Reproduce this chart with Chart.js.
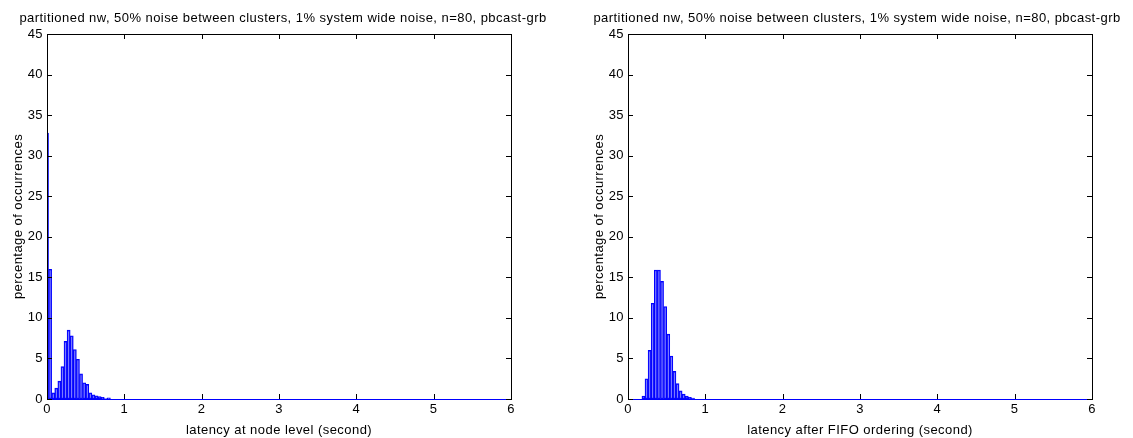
<!DOCTYPE html>
<html>
<head>
<meta charset="utf-8">
<script src="https://cdn.jsdelivr.net/npm/chart.js@4.4.1/dist/chart.umd.min.js"></script>
<style>
  html, body { margin: 0; padding: 0; background: #fff; }
  #wrap { position: relative; width: 1133px; height: 438px; }
  canvas { position: absolute; top: 0; }
</style>
</head>
<body>
<div id="wrap">
  <canvas id="node-chart" width="566" height="438" style="left:0;width:566px;height:438px"></canvas>
  <canvas id="fifo-chart" width="567" height="438" style="left:566px;width:567px;height:438px"></canvas>
</div>
<script>
const titleText = 'partitioned nw, 50% noise between clusters, 1% system wide noise, n=80, pbcast-grb';
const binWidth = 0.04; // seconds per histogram bin, bins centred on multiples of it
const xTicks = [0, 1, 2, 3, 4, 5, 6];
const yTicks = [0, 5, 10, 15, 20, 25, 30, 35, 40, 45];

// percentage of occurrences per bin, starting at bin 0
const nodeLatency = [32.8, 16.0, 0.75, 1.35, 2.2, 4.0, 7.1, 8.5, 7.8, 6.1, 4.9, 3.1, 2.0, 1.8,
  0.75, 0.5, 0.4, 0.3, 0.2, 0.05, 0.15];
const fifoLatency = [0, 0, 0, 0, 0, 0.37, 2.5, 6.0, 11.8, 15.9, 15.9, 14.5, 11.4, 8.0, 5.3,
  3.4, 1.9, 1.0, 0.6, 0.35, 0.2, 0.1];

const fontFamily = '"Liberation Sans", Arial, Helvetica, sans-serif';
const labelFont = { family: fontFamily, size: 13, weight: 'normal', lineHeight: 1.2 };

// matlab style box: black frame, inward ticks on all four sides, blue zero line
const boxPlugin = {
  id: 'box',
  beforeDraw(chart) {
    chart.ctx.letterSpacing = '0.45px';
  },
  afterDraw(chart) {
    const ctx = chart.ctx;
    const a = chart.chartArea;
    const xs = chart.scales.x, ys = chart.scales.y;
    ctx.save();
    ctx.lineWidth = 1;
    ctx.strokeStyle = '#000';
    ctx.strokeRect(Math.round(a.left) + 0.5, Math.round(a.top) + 0.5,
      Math.round(a.right - a.left), Math.round(a.bottom - a.top));
    ctx.strokeStyle = '#0000ff';
    ctx.beginPath();
    ctx.moveTo(a.left, Math.round(a.bottom) + 0.5);
    ctx.lineTo(a.right, Math.round(a.bottom) + 0.5);
    ctx.stroke();
    ctx.strokeStyle = '#000';
    ctx.beginPath();
    xTicks.forEach(t => {
      const px = Math.round(xs.getPixelForValue(t)) + 0.5;
      ctx.moveTo(px, a.bottom); ctx.lineTo(px, a.bottom - 5);
      ctx.moveTo(px, a.top); ctx.lineTo(px, a.top + 5);
    });
    yTicks.forEach(t => {
      const py = Math.round(ys.getPixelForValue(t)) + 0.5;
      ctx.moveTo(a.left, py); ctx.lineTo(a.left + 5, py);
      ctx.moveTo(a.right, py); ctx.lineTo(a.right - 5, py);
    });
    ctx.stroke();
    ctx.restore();
  }
};

function makeHist(canvasId, values, xLabel, padLeft, rightGap) {
  const points = values.map((v, i) => ({ x: i * binWidth, y: v }));
  return new Chart(document.getElementById(canvasId), {
    type: 'bar',
    data: {
      datasets: [{
        data: points,
        backgroundColor: 'rgba(150, 150, 255, 0.25)',
        borderColor: '#0000ff',
        borderWidth: 1,
        borderSkipped: false,
        barPercentage: 1,
        categoryPercentage: 1
      }]
    },
    options: {
      responsive: false,
      animation: false,
      layout: { padding: { left: padLeft, right: 0, top: 0, bottom: 0 } },
      plugins: {
        legend: { display: false },
        tooltip: { enabled: false },
        title: {
          display: true,
          text: titleText,
          color: '#000',
          font: labelFont,
          padding: { top: 11, bottom: 7.4 }
        }
      },
      scales: {
        x: {
          type: 'linear',
          min: 0,
          max: 6,
          offset: false,
          afterFit: s => { s.height = 39; },
          afterBuildTicks: s => { s.ticks = xTicks.map(v => ({ value: v })); },
          grid: { display: false, drawTicks: false },
          border: { display: false },
          ticks: { color: '#000', padding: 3, font: labelFont },
          title: {
            display: true,
            text: xLabel,
            color: '#000',
            padding: { top: 0, bottom: 0 },
            font: labelFont
          }
        },
        y: {
          min: 0,
          max: 45,
          afterFit: s => { s.width = 47; },
          afterBuildTicks: s => { s.ticks = yTicks.map(v => ({ value: v })); },
          grid: { display: false, drawTicks: false },
          border: { display: false },
          ticks: { color: '#000', padding: 4, font: labelFont },
          title: {
            display: true,
            text: 'percentage of occurrences',
            color: '#000',
            padding: { top: 11, bottom: 0 },
            font: labelFont
          }
        },
        // empty axis that keeps the white margin right of the frame
        gap: {
          position: 'right',
          min: 0,
          max: 45,
          afterFit: s => { s.width = rightGap; },
          grid: { display: false, drawTicks: false },
          border: { display: false },
          ticks: { display: false }
        }
      }
    },
    plugins: [boxPlugin]
  });
}

makeHist('node-chart', nodeLatency, 'latency at node level (second)', 0, 55);
makeHist('fifo-chart', fifoLatency, 'latency after FIFO ordering (second)', 15, 41);
</script>
</body>
</html>
